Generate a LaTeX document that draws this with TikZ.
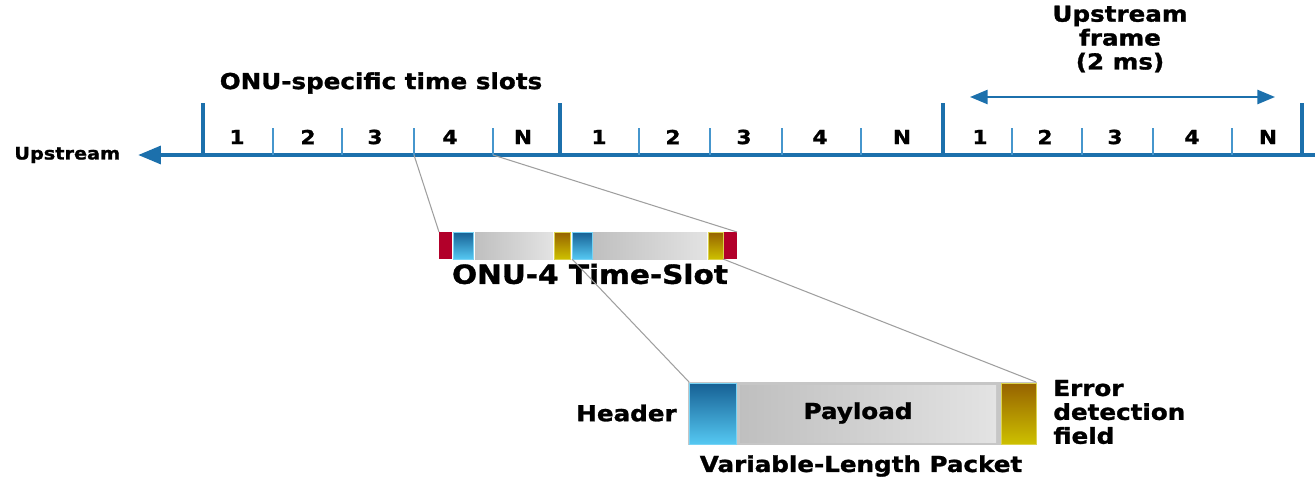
\documentclass[tikz,border=0pt]{standalone}
\usepackage{fontspec}
\setmainfont{DejaVu Sans}[FakeStretch=1.12, BoldFeatures={FakeBold=1.3}]
\usetikzlibrary{positioning,calc,arrows.meta}
\definecolor{lineblue}{RGB}{28,112,172}
\definecolor{tickblue}{RGB}{70,150,205}
\definecolor{hdrdark}{RGB}{22,96,148}
\definecolor{hdrlight}{RGB}{85,200,242}
\definecolor{errdark}{RGB}{150,98,0}
\definecolor{errlight}{RGB}{205,192,0}
\definecolor{slotred}{RGB}{178,0,42}
\newcommand*{\fsz}[2]{\fontsize{#1}{#2}\selectfont\bfseries}
\tikzset{
  lbl/.style={font=\fsz{12.5}{13.6}, inner sep=0pt, align=center},
  num/.style={font=\fsz{11}{12}, inner sep=0pt},
  bigtick/.style={lineblue, line width=2.8pt},
  smalltick/.style={tickblue, line width=1pt},
  zoomline/.style={gray!75, line width=0.6pt},
  hdrpart/.style={top color=hdrdark, bottom color=hdrlight, draw=hdrlight!80!white, line width=0.4pt},
  errpart/.style={top color=errdark, bottom color=errlight, draw=errlight!70!white, line width=0.4pt},
  paypart/.style={left color=gray!50, right color=gray!22},
}

\begin{document}
\begin{tikzpicture}[x=0.02cm,y=-0.02cm]
\useasboundingbox (0,0) rectangle (1315,480);
% Time axis
\draw[lineblue, line width=2.4pt, -{Triangle[length=13pt,width=10pt]}] (1315,155) -- (138,155);
\node[font=\fsz{9.8}{11}, inner sep=0pt, anchor=west] (up) at (14,155) {Upstream};
% Frame boundaries
\foreach \x [count=\i] in {203,560,943,1302}
  \draw[bigtick] (\x,155) -- (\x,103) coordinate (f\i);
% Slot boundaries and slot numbers
\foreach \x [count=\i] in {273,342,414,493, 639,710,782,861, 1012,1082,1153,1232}
  \draw[smalltick] (\x,155) coordinate (t\i) -- (\x,128);
\foreach \x/\t [count=\i] in {237/1,308/2,375/3,450/4,523/N, 599/1,673/2,744/3,820/4,902/N,
                                980/1,1045/2,1115/3,1192/4,1268/N}
  \node[num] (n\i) at (\x,137) {\t};
% Labels above the axis
\node[lbl] (slots) at (381,83) {ONU-specific time slots};
\node[lbl] (frame) at (1120,39) {Upstream\\frame\\(2 ms)};
\coordinate (fl) at (970,97);
\coordinate (fr) at (1275,97);
\draw[lineblue, line width=1.3pt, {Triangle[length=10pt,width=8pt]}-{Triangle[length=10pt,width=8pt]}] (fl) -- (fr);
% ONU-4 time slot
\fill[slotred] (439,232) rectangle (452,259);
\shade[hdrpart] (453,232) rectangle (473,259);
\shade[paypart] (475,232) rectangle (553,259);
\shade[errpart] (554,232) rectangle (570,259);
\shade[hdrpart] (572,232) rectangle (592,259);
\shade[paypart] (593,232) rectangle (707,259);
\shade[errpart] (708,232) rectangle (723,259);
\fill[slotred] (724,232) rectangle (737,259);
\coordinate (sl) at (439,232);
\coordinate (sr) at (737,232);
\coordinate (pl) at (572,259);
\coordinate (pr) at (723,259);
\node[font=\fsz{15}{16}, inner sep=0pt] (slot) at (590,274) {ONU-4 Time-Slot};
% Variable-length packet
\fill[gray!45] (688,382) rectangle (1037,445);
\shade[hdrpart] (689,383) rectangle (736,444);
\shade[paypart] (740,385) rectangle (996,442);
\shade[errpart] (1001,383) rectangle (1036,444);
\coordinate (kl) at (689,382);
\coordinate (kr) at (1036,382);
\node[lbl] (pay) at (858,413) {Payload};
\node[lbl, anchor=east] (hdr) at (677,413) {Header};
\node[lbl, anchor=west, align=left] (err) at (1053,412) {Error\\detection\\field};
\node[lbl] (pkt) at (861,466) {Variable-Length Packet};
% Zoom lines
\draw[zoomline] (t3) -- (sl);
\draw[zoomline] (t4) -- (sr);
\draw[zoomline] (pl) -- (kl);
\draw[zoomline] (pr) -- (kr);
\end{tikzpicture}
\end{document}
